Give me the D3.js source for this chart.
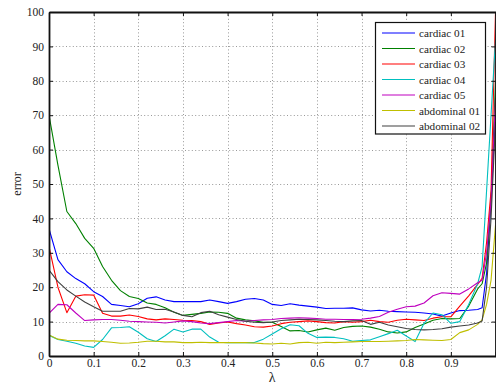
<!DOCTYPE html>
<html>
<head>
<meta charset="utf-8">
<script src="https://cdn.jsdelivr.net/npm/d3@7"></script>
<style>
  body { margin: 0; background: #fff; }
  svg { display: block; }
  svg text { font-family: "Liberation Serif", "Times New Roman", Times, serif !important; fill: #222; }
</style>
</head>
<body>
<div id="wrapper"></div>
<script>
// lambda values the curves were sampled at
const lambdas = [0, 0.02, 0.04, 0.06, 0.08, 0.10, 0.12, 0.14, 0.16, 0.18,
  0.20, 0.22, 0.24, 0.26, 0.28, 0.30, 0.32, 0.34, 0.36, 0.38,
  0.40, 0.42, 0.44, 0.46, 0.48, 0.50, 0.52, 0.54, 0.56, 0.58,
  0.60, 0.62, 0.64, 0.66, 0.68, 0.70, 0.72, 0.74, 0.76, 0.78,
  0.80, 0.82, 0.84, 0.86, 0.88, 0.90, 0.92, 0.94, 0.96, 0.97,
  0.98, 0.99, 1.0];

const cardiac01 = [37, 28, 24.5, 22.5, 21, 18.7, 17.3, 15, 14.7, 14.3,
  15.2, 16.8, 17.2, 16.3, 15.8, 15.8, 15.8, 15.8, 16.3, 15.8,
  15.3, 15.8, 16.5, 16.7, 16.3, 15.0, 14.7, 15.2, 14.8, 14.5,
  14.2, 13.8, 13.9, 13.9, 14.0, 13.4, 13.1, 13.3, 13.0, 12.9,
  12.8, 12.7, 12.5, 12.2, 11.6, 12.5, 13.2, 13.3, 13.5, 14,
  24, 45, 70];
const cardiac02 = [70, 55.5, 42, 38.5, 34.2, 31.3, 26, 22, 19, 17.3,
  16.7, 15.4, 15, 14, 12.7, 11.8, 12.1, 12.4, 12.8, 12.7,
  12.4, 11, 10.5, 10.2, 9.8, 9.8, 8.6, 7.3, 7.4, 7.0,
  7.6, 8.1, 7.5, 8.3, 8.6, 8.7, 8.4, 7.8, 7.0, 6.7,
  7.0, 8.3, 9.3, 10.4, 10.9, 10.8, 10.9, 14.5, 19.5, 21,
  27, 45, 80];
const cardiac03 = [31.8, 20, 12.6, 17.4, 17.8, 17.7, 12.4, 11.6, 11.6, 11.9,
  11.5, 10.8, 10.5, 10.8, 10.6, 10.4, 10.3, 10.0, 9.2, 9.6,
  9.9, 9.4, 9.0, 8.5, 8.4, 8.7, 9.4, 9.8, 10.0, 10.2,
  10.0, 9.7, 9.6, 10.0, 9.8, 10.0, 10.4, 10.0, 9.8, 10.4,
  10.7, 10.5, 10.3, 11.0, 11.4, 11.4, 14.5, 17.5, 20.8, 22.6,
  33, 48, 100];
const cardiac04 = [6, 4.8, 4.3, 3.7, 2.9, 2.5, 4.8, 8.2, 8.3, 8.5,
  6.9, 5.0, 4.2, 5.9, 7.8, 7.0, 7.8, 7.8, 5.5, 4.0,
  3.9, 3.9, 3.9, 3.9, 4.9, 6.4, 7.9, 9.1, 8.8, 6.6,
  5.4, 5.5, 5.4, 5.0, 4.3, 4.5, 4.7, 5.6, 6.5, 7.5,
  5.8, 4.2, 9.5, 12.5, 12.0, 9.5, 10.0, 15, 21, 26,
  48, 70, 92];
const cardiac05 = [12.4, 15, 14.9, 12.5, 10.3, 10.5, 10.6, 10.6, 10.4, 10.1,
  10, 9.9, 9.8, 9.6, 9.9, 10.2, 10, 9.6, 9.4, 9.7,
  10, 10.3, 10.1, 10.3, 10.5, 10.6, 10.9, 11, 11.1, 11.0,
  10.9, 10.7, 10.7, 10.6, 10.6, 10.7, 11, 11.5, 12.7, 13.6,
  14.3, 14.5, 15.4, 17.5, 18.4, 18.2, 18.0, 19.5, 21.3, 22,
  30, 45, 75];
const abdominal01 = [6.1, 4.9, 4.6, 4.5, 4.4, 4.4, 4.2, 4.0, 3.7, 3.8,
  4.0, 4.3, 4.3, 4.1, 4.1, 3.9, 3.9, 4.0, 3.9, 3.9,
  3.9, 3.9, 3.9, 3.8, 3.6, 3.5, 3.7, 3.5, 3.9, 4.0,
  3.7, 4.0, 3.9, 4.0, 4.1, 4.2, 4.2, 4.2, 4.3, 4.4,
  4.5, 4.8, 4.7, 4.6, 4.5, 4.8, 6.8, 7.6, 9.2, 10.5,
  15, 22, 38];
const abdominal02 = [25, 21.6, 19.2, 17.4, 15.7, 14.3, 13, 13, 13, 13.8,
  13.7, 14.2, 13.5, 13.6, 12.8, 11.8, 11.4, 12.6, 13.0, 12.0,
  11.3, 10.6, 10.1, 9.8, 9.7, 9.9, 10.3, 10.5, 10.7, 10.6,
  10.5, 10.3, 10.1, 10.0, 10.2, 10.3, 9.2, 9.8, 9.0, 8.5,
  8.0, 7.7, 7.6, 7.7, 7.9, 8.4, 8.7, 9.0, 9.6, 10.2,
  20, 40, 68];

const seriesNames = ['cardiac 01', 'cardiac 02', 'cardiac 03', 'cardiac 04',
  'cardiac 05', 'abdominal 01', 'abdominal 02'];
const seriesValues = [cardiac01, cardiac02, cardiac03, cardiac04,
  cardiac05, abdominal01, abdominal02];
const seriesColors = ['#0000ff', '#008000', '#ff0000', '#00bfbf',
  '#bf00bf', '#bfbf00', '#404040'];

const xTicks = [0, 0.1, 0.2, 0.3, 0.4, 0.5, 0.6, 0.7, 0.8, 0.9, 1];
const xTickLabels = ['0', '0.1', '0.2', '0.3', '0.4', '0.5', '0.6', '0.7', '0.8', '0.9', ''];
const yTicks = [0, 10, 20, 30, 40, 50, 60, 70, 80, 90, 100];

const width = 496, height = 385;
const plotL = 49, plotR = 495.5, plotT = 12, plotB = 356;

const x = d3.scaleLinear().domain([0, 1]).range([plotL, plotR]);
const y = d3.scaleLinear().domain([0, 100]).range([plotB, plotT]);

const svg = d3.select('#wrapper').append('svg')
  .attr('width', width).attr('height', height);

// grid
const grid = svg.append('g')
  .attr('stroke', '#999').attr('stroke-width', 1)
  .attr('stroke-dasharray', '1,2.4');
grid.selectAll('.gx').data(xTicks.slice(1, -1)).enter().append('line')
  .attr('x1', d => Math.round(x(d)) + 0.5).attr('x2', d => Math.round(x(d)) + 0.5)
  .attr('y1', plotT).attr('y2', plotB);
grid.selectAll('.gy').data(yTicks.slice(1, -1)).enter().append('line')
  .attr('y1', d => Math.round(y(d)) + 0.5).attr('y2', d => Math.round(y(d)) + 0.5)
  .attr('x1', plotL).attr('x2', plotR);

svg.append('clipPath').attr('id', 'plotClip')
  .append('rect').attr('x', plotL).attr('y', plotT)
  .attr('width', plotR - plotL).attr('height', plotB - plotT);

const line = d3.line()
  .x((d, i) => x(lambdas[i]))
  .y(d => y(d));

svg.append('g').attr('clip-path', 'url(#plotClip)')
  .selectAll('path')
  .data(seriesValues)
  .enter()
  .append('path')
  .attr('d', line)
  .attr('fill', 'none')
  .attr('stroke', (d, i) => seriesColors[i])
  .attr('stroke-width', 1.1)
  .attr('stroke-linejoin', 'round');

// axes: box with inward ticks, MATLAB style
const xAxis = svg.append('g').attr('transform', `translate(0,${plotB})`)
  .call(d3.axisBottom(x).tickValues(xTicks).tickFormat((d, i) => xTickLabels[i]).tickSizeInner(-4).tickSizeOuter(0).tickPadding(3));
const xAxisTop = svg.append('g').attr('transform', `translate(0,${plotT})`)
  .call(d3.axisTop(x).tickValues(xTicks).tickFormat('').tickSizeInner(-4).tickSizeOuter(0));
const yAxis = svg.append('g').attr('transform', `translate(${plotL},0)`)
  .call(d3.axisLeft(y).tickValues(yTicks).tickSizeInner(-4).tickSizeOuter(0).tickPadding(5));
const yAxisRight = svg.append('g').attr('transform', `translate(${plotR},0)`)
  .call(d3.axisRight(y).tickValues(yTicks).tickFormat('').tickSizeInner(-4).tickSizeOuter(0));

[xAxis, xAxisTop, yAxis, yAxisRight].forEach(g => {
  g.attr('font-family', null);
  g.select('.domain').attr('stroke', '#111').attr('stroke-width', 1.8);
  g.selectAll('.tick line').attr('stroke', '#111');
  g.selectAll('text').attr('font-size', 11.5).attr('fill', '#333');
});

// axis labels
svg.append('text')
  .attr('x', (plotL + plotR) / 2).attr('y', 382)
  .attr('text-anchor', 'middle').attr('font-size', 14)
  .text('λ');
svg.append('text')
  .attr('transform', `translate(21,${(plotT + plotB) / 2}) rotate(-90)`)
  .attr('text-anchor', 'middle').attr('font-size', 12)
  .text('error');

// legend
const legend = svg.append('g');
legend.append('rect')
  .attr('x', 375.5).attr('y', 22.5).attr('width', 110).attr('height', 111.5)
  .attr('fill', '#fff').attr('stroke', '#111').attr('stroke-width', 1.2);
const items = legend.selectAll('.item').data(seriesNames).enter().append('g')
  .attr('transform', (d, i) => `translate(0,${33 + i * 15.5})`);
items.append('line')
  .attr('x1', 382).attr('x2', 415).attr('y1', 0).attr('y2', 0)
  .attr('stroke', (d, i) => seriesColors[i]).attr('stroke-width', 1.2);
items.append('text')
  .attr('x', 419).attr('y', 4)
  .attr('font-size', 11.2).attr('fill', '#222')
  .text(d => d);
</script>
</body>
</html>
